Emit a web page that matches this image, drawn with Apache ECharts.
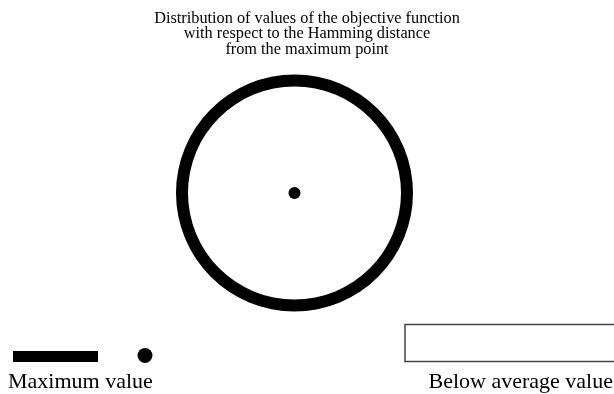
<!DOCTYPE html>
<html>
<head>
<meta charset="utf-8">
<style>
  html, body { margin: 0; padding: 0; background: #fff; }
  #chart { width: 614px; height: 394px; }
</style>
<script src="https://cdn.jsdelivr.net/npm/echarts@6/dist/echarts.min.js"></script>
</head>
<body>
<div id="chart"></div>
<script>
// ---- data ----
const titleLines = [
  'Distribution of values of the objective function',
  'with respect to the Hamming distance',
  'from the maximum point'
];
// Hamming distance from the maximum point (radial categories)
const hammingDistances = ['0', '1'];
// angular span (degrees) covered by "Maximum value" points at each distance
const maximumValueSpan = [0, 360];
// the maximum point itself: [distance, angle]
const maximumPoint = [['0', 0]];
const legendLabels = ['Maximum value', 'Below average value'];

const FONT = '"Liberation Serif", "Times New Roman", serif';

const chart = echarts.init(document.getElementById('chart'), null, { renderer: 'canvas' });

chart.setOption({
  backgroundColor: '#ffffff',
  animation: false,
  title: {
    text: titleLines.join('\n'),
    left: 'center',
    top: 10.5,
    padding: 0,
    textStyle: {
      fontFamily: FONT,
      fontSize: 16.3,
      fontWeight: 'normal',
      lineHeight: 15.8,
      color: '#000'
    }
  },
  polar: {
    center: [294.5, 193],
    radius: 112.5
  },
  radiusAxis: {
    type: 'category',
    data: hammingDistances,
    boundaryGap: false,
    axisLine: { show: false },
    axisTick: { show: false },
    axisLabel: { show: false },
    splitLine: { show: false }
  },
  angleAxis: {
    type: 'value',
    min: 0,
    max: 360,
    axisLine: { show: false },
    axisTick: { show: false },
    axisLabel: { show: false },
    splitLine: { show: false }
  },
  series: [
    {
      name: legendLabels[0],
      type: 'bar',
      coordinateSystem: 'polar',
      data: maximumValueSpan,
      barWidth: 12,
      clip: false,
      itemStyle: { color: '#000' },
      silent: true
    },
    {
      name: legendLabels[0],
      type: 'scatter',
      coordinateSystem: 'polar',
      data: maximumPoint,
      symbol: 'circle',
      symbolSize: 12,
      itemStyle: { color: '#000', opacity: 1 },
      silent: true
    }
  ],
  graphic: [
    // legend: Maximum value
    { type: 'rect', shape: { x: 13, y: 351, width: 85, height: 11 }, style: { fill: '#000' } },
    { type: 'circle', shape: { cx: 145, cy: 355.5, r: 7.5 }, style: { fill: '#000' } },
    { type: 'text', x: 8, y: 382.5, style: { text: legendLabels[0], font: '22px ' + FONT, fill: '#000', textAlign: 'left', textVerticalAlign: 'middle' } },
    // legend: Below average value
    { type: 'rect', shape: { x: 405, y: 324.5, width: 230, height: 37 }, style: { fill: '#fff', stroke: '#444', lineWidth: 1.5 } },
    { type: 'text', x: 613, y: 382.5, style: { text: legendLabels[1], font: '22px ' + FONT, fill: '#000', textAlign: 'right', textVerticalAlign: 'middle' } }
  ]
});
</script>
</body>
</html>
